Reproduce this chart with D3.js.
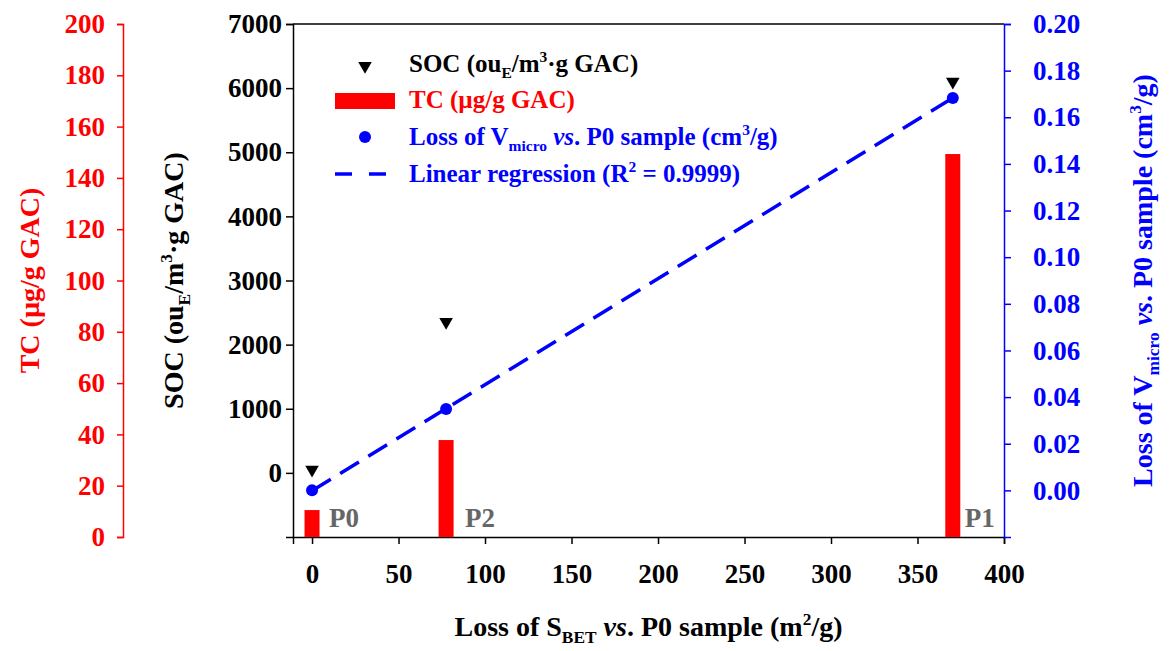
<!DOCTYPE html>
<html>
<head>
<meta charset="utf-8">
<script src="https://cdn.jsdelivr.net/npm/d3@7"></script>
<style>
    body { margin: 0; background: #fff; }
</style>
</head>
<body>
<div id="chart"></div>
<script>
// data
const samples = ["P0", "P2", "P1"];
const sbetLoss = [0, 77.5, 370.4];          // m2/g
const socValues = [50, 2355, 6100];          // ouE/m3·g GAC
const tcValues = [10.5, 37.8, 149.3];        // µg/g GAC
const vmicroLoss = [0, 0.0349, 0.1683];      // cm3/g

const xTicks = [0, 50, 100, 150, 200, 250, 300, 350, 400];
const socTicks = [0, 1000, 2000, 3000, 4000, 5000, 6000, 7000];
const tcTicks = [0, 20, 40, 60, 80, 100, 120, 140, 160, 180, 200];
const vTicks = [0, 0.02, 0.04, 0.06, 0.08, 0.10, 0.12, 0.14, 0.16, 0.18, 0.20];

const W = 1169, H = 651;
const margin = {top: 24, right: 165, bottom: 114, left: 293};
const width = W - margin.left - margin.right;
const height = H - margin.top - margin.bottom;
const FONT = '"Liberation Serif", "Times New Roman", serif';

const svg = d3.select("#chart").append("svg")
    .attr("width", W)
    .attr("height", H)
    .attr("font-family", FONT)
    .attr("font-weight", "bold");

const g = svg.append("g")
    .attr("transform", "translate(" + margin.left + "," + margin.top + ")");

// scales
const x = d3.scaleLinear().domain([-11, 400]).range([0, width]);
const ySoc = d3.scaleLinear().domain([-1000, 7000]).range([height, 0]);
const yTc = d3.scaleLinear().domain([0, 200]).range([height, 0]);
const yV = d3.scaleLinear().domain([-0.02, 0.20]).range([height, 0]);

const fs = 27;      // tick labels
const tfs = 28;     // axis titles

function styleAxis(sel, color) {
    sel.attr("font-family", FONT).attr("font-size", fs).attr("font-weight", "bold");
    sel.selectAll("path").attr("stroke", color).attr("stroke-width", 1.5);
    sel.selectAll("line").attr("stroke", color).attr("stroke-width", 1.5);
    sel.selectAll("text").attr("fill", color);
}

// frame top
g.append("line")
    .attr("x1", 0).attr("x2", width).attr("y1", 0).attr("y2", 0)
    .attr("stroke", "#000").attr("stroke-width", 1.5);

// bottom axis
const xAxis = g.append("g")
    .attr("transform", "translate(0," + height + ")")
    .call(d3.axisBottom(x).tickValues(xTicks).tickSizeOuter(0).tickSize(7).tickPadding(20));
styleAxis(xAxis, "#000");

// left SOC axis
const socAxis = g.append("g")
    .call(d3.axisLeft(ySoc).tickValues(socTicks).tickSizeOuter(0).tickSize(7).tickPadding(4).tickFormat(d3.format("d")));
styleAxis(socAxis, "#000");

// right V axis
const vAxis = g.append("g")
    .attr("transform", "translate(" + width + ",0)")
    .call(d3.axisRight(yV).tickValues(vTicks).tickSizeOuter(0).tickSize(7).tickPadding(22).tickFormat(d3.format(".2f")));
styleAxis(vAxis, "#0000ff");

// far left TC axis
const tcAxis = g.append("g")
    .attr("transform", "translate(" + (123 - margin.left) + ",0)")
    .call(d3.axisLeft(yTc).tickValues(tcTicks).tickSizeOuter(0).tickSize(6).tickPadding(12).tickFormat(d3.format("d")));
styleAxis(tcAxis, "#ff0000");

// TC bars
const barW = 15;
g.selectAll(".bar")
    .data(samples)
    .enter()
    .append("rect")
    .attr("class", "bar")
    .attr("x", (d, i) => x(sbetLoss[i]) - barW / 2)
    .attr("width", barW)
    .attr("y", (d, i) => yTc(tcValues[i]))
    .attr("height", (d, i) => height - yTc(tcValues[i]))
    .attr("fill", "#ff0000");

// sample labels
const labelOffset = {P0: 17, P2: 19, P1: 12};
g.selectAll(".sampleLabel")
    .data(samples)
    .enter()
    .append("text")
    .attr("class", "sampleLabel")
    .attr("x", (d, i) => x(sbetLoss[i]) + labelOffset[d])
    .attr("y", height - 10)
    .attr("fill", "#666666")
    .style("font-size", "27px")
    .text(d => d);

// linear regression of Vmicro loss on SBET loss
const n = sbetLoss.length;
const mx = d3.mean(sbetLoss), my = d3.mean(vmicroLoss);
let sxy = 0, sxx = 0;
for (let i = 0; i < n; i++) {
    sxy += (sbetLoss[i] - mx) * (vmicroLoss[i] - my);
    sxx += (sbetLoss[i] - mx) * (sbetLoss[i] - mx);
}
const slope = sxy / sxx, intercept = my - slope * mx;
const xr = d3.extent(sbetLoss);

g.append("line")
    .attr("x1", x(xr[0])).attr("y1", yV(intercept + slope * xr[0]))
    .attr("x2", x(xr[1])).attr("y2", yV(intercept + slope * xr[1]))
    .attr("stroke", "#0000ff")
    .attr("stroke-width", 3.5)
    .attr("stroke-dasharray", "22,11");

// Vmicro points
g.selectAll(".vdot")
    .data(samples)
    .enter()
    .append("circle")
    .attr("class", "vdot")
    .attr("cx", (d, i) => x(sbetLoss[i]))
    .attr("cy", (d, i) => yV(vmicroLoss[i]))
    .attr("r", 6)
    .attr("fill", "#0000ff");

// SOC triangles
const tri = d3.symbol().type(d3.symbolTriangle).size(80);
g.selectAll(".soc")
    .data(samples)
    .enter()
    .append("path")
    .attr("class", "soc")
    .attr("d", tri)
    .attr("transform", (d, i) => "translate(" + x(sbetLoss[i]) + "," + ySoc(socValues[i]) + ") rotate(180)")
    .attr("fill", "#000");

// text with sub/superscripts: parts = [[text, kind]]
function richText(sel, parts, size) {
    let shift = 0;
    parts.forEach(p => {
        const t = sel.append("tspan").text(p[0]);
        let target = 0;
        if (p[1] === "sub") target = size * 0.25;
        if (p[1] === "sup") target = -size * 0.4;
        if (p[1] === "sub" || p[1] === "sup") t.style("font-size", (size * 0.62) + "px");
        if (p[1] === "it") t.style("font-style", "italic");
        if (target !== shift) t.attr("dy", target - shift);
        shift = target;
    });
}

// axis titles
const xTitle = svg.append("text")
    .attr("x", margin.left + width / 2)
    .attr("y", 636)
    .attr("text-anchor", "middle")
    .style("font-size", tfs + "px");
richText(xTitle, [["Loss of S"], ["BET", "sub"], [" "], ["vs", "it"], [". P0 sample (m"], ["2", "sup"], ["/g)"]], tfs);

const socTitle = svg.append("text")
    .attr("transform", "translate(183," + (margin.top + height / 2) + ") rotate(-90)")
    .attr("text-anchor", "middle")
    .style("font-size", tfs + "px");
richText(socTitle, [["SOC (ou"], ["E", "sub"], ["/m"], ["3", "sup"], ["·g GAC)"]], tfs);

svg.append("text")
    .attr("transform", "translate(39," + (margin.top + height / 2) + ") rotate(-90)")
    .attr("text-anchor", "middle")
    .attr("fill", "#ff0000")
    .style("font-size", tfs + "px")
    .text("TC (µg/g GAC)");

const vTitle = svg.append("text")
    .attr("transform", "translate(1152," + (margin.top + height / 2) + ") rotate(-90)")
    .attr("text-anchor", "middle")
    .attr("fill", "#0000ff")
    .style("font-size", tfs + "px");
richText(vTitle, [["Loss of V"], ["micro", "sub"], [" "], ["vs", "it"], [". P0 sample (cm"], ["3", "sup"], ["/g)"]], tfs);

// legend
const lg = svg.append("g");
const legSize = 25;
const legY = [72, 108, 145, 182];
const legTextX = 409;

lg.append("path")
    .attr("d", tri)
    .attr("transform", "translate(365," + (legY[0] - 6) + ") rotate(180)")
    .attr("fill", "#000");
richText(lg.append("text").attr("x", legTextX).attr("y", legY[0]).style("font-size", legSize + "px"),
    [["SOC (ou"], ["E", "sub"], ["/m"], ["3", "sup"], ["·g GAC)"]], legSize);

lg.append("rect")
    .attr("x", 335).attr("y", legY[1] - 15).attr("width", 60).attr("height", 16)
    .attr("fill", "#ff0000");
lg.append("text").attr("x", legTextX).attr("y", legY[1])
    .attr("fill", "#ff0000").style("font-size", legSize + "px")
    .text("TC (µg/g GAC)");

lg.append("circle")
    .attr("cx", 365).attr("cy", legY[2] - 8).attr("r", 6)
    .attr("fill", "#0000ff");
richText(lg.append("text").attr("x", legTextX).attr("y", legY[2]).attr("fill", "#0000ff").style("font-size", legSize + "px"),
    [["Loss of V"], ["micro", "sub"], [" "], ["vs", "it"], [". P0 sample (cm"], ["3", "sup"], ["/g)"]], legSize);

lg.append("line")
    .attr("x1", 335).attr("x2", 386)
    .attr("y1", legY[3] - 8).attr("y2", legY[3] - 8)
    .attr("stroke", "#0000ff").attr("stroke-width", 3.5)
    .attr("stroke-dasharray", "17,17");
richText(lg.append("text").attr("x", legTextX).attr("y", legY[3]).attr("fill", "#0000ff").style("font-size", legSize + "px"),
    [["Linear regression (R"], ["2", "sup"], [" = 0.9999)"]], legSize);
</script>
</body>
</html>
